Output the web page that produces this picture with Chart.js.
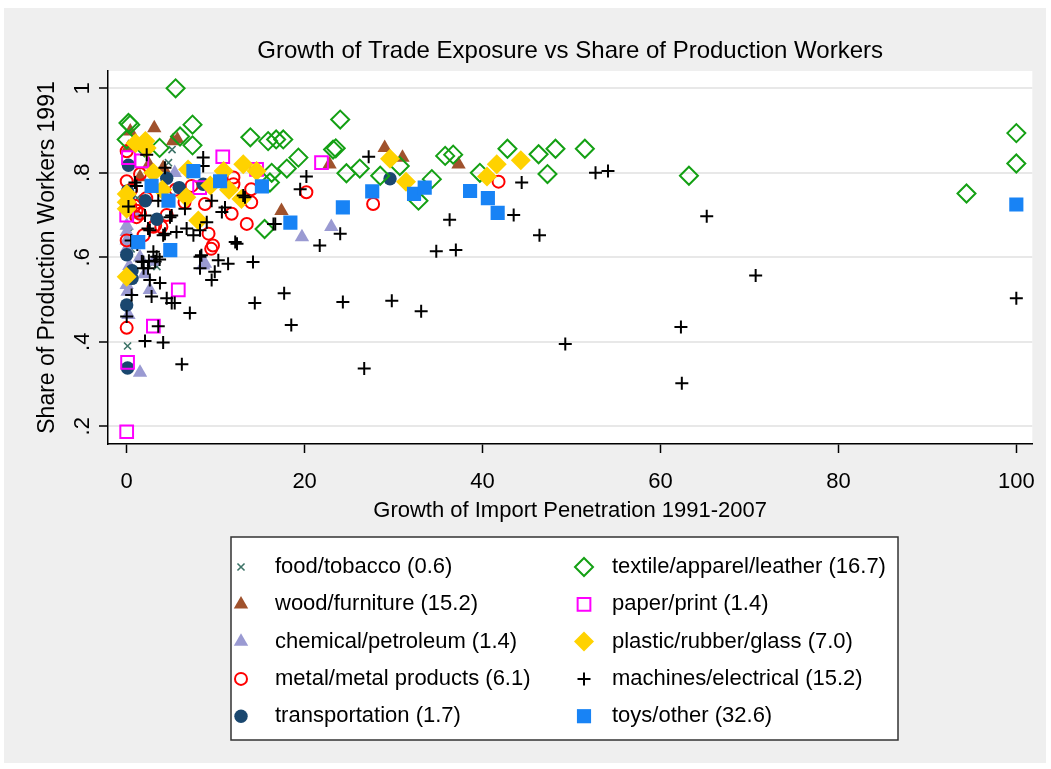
<!DOCTYPE html>
<html>
<head>
<meta charset="utf-8">
<title>Growth of Trade Exposure vs Share of Production Workers</title>
<script src="https://cdn.jsdelivr.net/npm/chart.js@4"></script>
<style>
  html, body { margin: 0; padding: 0; background: #fff; }
  #wrap { width: 1051px; height: 769px; }
</style>
</head>
<body>
<div id="wrap"><canvas id="tradeChart" width="1051" height="769"></canvas></div>
<script>
// text
const chartTitle = 'Growth of Trade Exposure vs Share of Production Workers';
const xTitle = 'Growth of Import Penetration 1991-2007';
const yTitle = 'Share of Production Workers 1991';
const xTicks = [0, 20, 40, 60, 80, 100];
const yTicks = [0.2, 0.4, 0.6, 0.8, 1];
const yTickLabels = ['.2', '.4', '.6', '.8', '1'];
const seriesLabels = [
  'food/tobacco (0.6)',
  'wood/furniture (15.2)',
  'chemical/petroleum (1.4)',
  'metal/metal products (6.1)',
  'transportation (1.7)',
  'textile/apparel/leather (16.7)',
  'paper/print (1.4)',
  'plastic/rubber/glass (7.0)',
  'machines/electrical (15.2)',
  'toys/other (32.6)',
];

// points: [growth of import penetration, share of production workers]
const food = [
  [2.6, 0.812], [5.1, 0.855], [4.7, 0.824], [0.1, 0.39], [3.4, 0.578],
  [0.3, 0.66], [1.2, 0.74], [0.5, 0.62], [2.9, 0.585], [0.0, 0.71],
];
const wood = [
  [0.4, 0.898], [3.1, 0.906], [5.7, 0.879], [4.1, 0.812], [2.5, 0.82],
  [17.4, 0.71], [22.8, 0.82], [29.0, 0.859], [31.0, 0.836], [37.3, 0.82],
  [0.2, 0.86], [1.5, 0.79], [5.2, 0.875],
];
const chemical = [
  [8.6, 0.581], [2.6, 0.523], [1.5, 0.327], [0.0, 0.535], [0.2, 0.464],
  [19.7, 0.648], [23.0, 0.672], [5.4, 0.80], [0.0, 0.675], [0.0, 0.66],
  [0.0, 0.64], [0.1, 0.519], [0.0, 0.72], [8.8, 0.585], [1.5, 0.60],
  [2.0, 0.56], [0.3, 0.58], [0.0, 0.62], [3.0, 0.59], [1.0, 0.70],
];
const metal = [
  [0.0, 0.851], [0.0, 0.78], [1.5, 0.797], [0.4, 0.722], [1.1, 0.71],
  [7.3, 0.769], [12.0, 0.789], [12.0, 0.773], [14.0, 0.761], [14.0, 0.73],
  [8.8, 0.726], [11.8, 0.703], [13.5, 0.679], [9.7, 0.628], [1.1, 0.695],
  [3.2, 0.675], [1.9, 0.652], [0.0, 0.433], [9.5, 0.62], [20.2, 0.754],
  [27.7, 0.726], [41.8, 0.779], [3.0, 0.672], [3.9, 0.672], [0.9, 0.722],
  [1.5, 0.703], [9.2, 0.656], [0.0, 0.64], [0.5, 0.76], [2.2, 0.74],
  [4.5, 0.70], [5.5, 0.76], [6.5, 0.73],
];
const transport = [
  [0.2, 0.818], [0.1, 0.757], [0.2, 0.745], [4.5, 0.787], [5.9, 0.765],
  [8.6, 0.773], [2.1, 0.734], [3.4, 0.69], [0.0, 0.606], [0.6, 0.568],
  [0.6, 0.55], [0.0, 0.487], [0.1, 0.338], [29.6, 0.786],
];
const textile = [
  [5.5, 1.0], [0.4, 0.914], [7.4, 0.914], [0.0, 0.879], [13.9, 0.884],
  [15.9, 0.875], [16.8, 0.879], [17.6, 0.879], [3.7, 0.859], [7.4, 0.865],
  [6.0, 0.886], [16.3, 0.80], [15.5, 0.667], [24.0, 0.926], [23.2, 0.855],
  [23.5, 0.858], [19.3, 0.836], [18.0, 0.81], [24.7, 0.799], [26.2, 0.81],
  [28.5, 0.793], [30.7, 0.816], [34.3, 0.785], [32.8, 0.734], [35.8, 0.84],
  [36.7, 0.843], [16.1, 0.777], [42.8, 0.857], [46.3, 0.844], [48.2, 0.857],
  [51.5, 0.857], [39.7, 0.80], [47.3, 0.797], [63.2, 0.793], [100, 0.894],
  [100, 0.822], [94.4, 0.751], [0.2, 0.918], [2.0, 0.86],
];
const paper = [
  [10.8, 0.838], [0.2, 0.836], [14.6, 0.808], [8.2, 0.765], [0.0, 0.70],
  [5.8, 0.523], [3.0, 0.437], [0.0, 0.187], [0.1, 0.351], [21.9, 0.824],
  [1.7, 0.828],
];
const plastic = [
  [2.1, 0.875], [6.9, 0.808], [13.1, 0.82], [10.9, 0.804], [14.6, 0.804],
  [8.05, 0.687], [6.7, 0.742], [0.0, 0.73], [9.4, 0.77], [0.0, 0.554],
  [29.6, 0.833], [31.4, 0.779], [41.6, 0.82], [44.3, 0.83], [40.5, 0.791],
  [2.25, 0.859], [0.0, 0.715], [12.9, 0.738], [0.0, 0.75], [4.0, 0.76],
  [3.0, 0.80], [11.5, 0.76], [1.0, 0.87],
];
const machines = [
  [2.25, 0.843], [8.6, 0.836], [8.6, 0.816], [4.3, 0.812], [1.1, 0.769],
  [3.55, 0.734], [9.55, 0.734], [11.05, 0.718], [10.7, 0.707], [13.1, 0.746],
  [6.55, 0.715], [5.06, 0.699], [2.06, 0.699], [9.0, 0.683], [6.74, 0.668],
  [8.24, 0.664], [5.6, 0.66], [4.3, 0.656], [2.6, 0.664], [16.5, 0.679],
  [12.2, 0.636], [3.0, 0.613], [8.24, 0.601], [10.3, 0.593], [11.4, 0.585],
  [14.2, 0.589], [8.24, 0.574], [9.9, 0.566], [9.55, 0.546], [2.6, 0.546],
  [3.74, 0.539], [0.56, 0.511], [2.8, 0.507], [4.5, 0.503], [5.4, 0.492],
  [5.06, 0.492], [7.1, 0.468], [14.4, 0.492], [0.0, 0.46], [3.55, 0.437],
  [2.06, 0.402], [4.1, 0.398], [6.2, 0.347], [1.7, 0.59], [2.5, 0.592],
  [3.2, 0.59], [3.7, 0.595], [1.9, 0.574], [2.4, 0.574], [20.2, 0.791],
  [19.5, 0.761], [27.2, 0.838], [16.7, 0.679], [24.0, 0.656], [21.7, 0.628],
  [36.3, 0.689], [34.8, 0.614], [37.0, 0.617], [17.7, 0.515], [18.5, 0.44],
  [24.3, 0.494], [29.8, 0.497], [33.1, 0.472], [26.7, 0.337], [44.4, 0.777],
  [52.7, 0.80], [54.1, 0.804], [43.5, 0.70], [46.4, 0.652], [65.2, 0.697],
  [70.7, 0.557], [62.3, 0.435], [49.3, 0.395], [62.4, 0.302], [100, 0.503],
  [0.93, 0.777], [4.87, 0.695], [2.4, 0.668], [7.5, 0.652], [3.37, 0.601],
  [1.87, 0.589], [4.1, 0.652], [12.4, 0.632], [8.4, 0.605], [13.3, 0.742],
  [0.2, 0.72], [0.5, 0.64], [1.2, 0.63],
];
const toys = [
  [7.5, 0.804], [2.8, 0.769], [10.5, 0.78], [4.7, 0.734], [15.2, 0.768],
  [1.3, 0.636], [4.9, 0.617], [27.6, 0.756], [24.3, 0.718], [32.3, 0.75],
  [33.5, 0.765], [18.4, 0.682], [38.6, 0.757], [40.6, 0.74], [41.7, 0.705],
  [100, 0.725],
];

// no narrow face installed, so sizes are picked to match the text widths
const FONT = '"Liberation Sans Narrow", "Arial Narrow", "Liberation Sans", Arial, sans-serif';
const gridColor = '#e8e8e8';

// marker look for each series, same order as seriesLabels
const markers = [
  { style: 'crossRot', radius: 5, fill: '#3d7367', line: '#3d7367', width: 1.6 },
  { style: 'triangle', radius: 8.3, fill: '#a0522d', line: '#a0522d', width: 0 },
  { style: 'triangle', radius: 8.3, fill: '#9a9ad2', line: '#9a9ad2', width: 0 },
  { style: 'circle', radius: 6, fill: 'rgba(0,0,0,0)', line: '#ff0000', width: 2 },
  { style: 'circle', radius: 6.7, fill: '#1a476f', line: '#1a476f', width: 0 },
  { style: 'rectRot', radius: 9, fill: 'rgba(0,0,0,0)', line: '#14a014', width: 2 },
  { style: 'rect', radius: 9, fill: 'rgba(0,0,0,0)', line: '#ff00ff', width: 2 },
  { style: 'rectRot', radius: 10, fill: '#ffd200', line: '#ffd200', width: 0 },
  { style: 'cross', radius: 6.5, fill: '#000', line: '#000', width: 2 },
  { style: 'rect', radius: 10, fill: '#1883f5', line: '#1883f5', width: 0 },
];
const seriesData = [food, wood, chemical, metal, transport, textile, paper, plastic, machines, toys];

const datasets = seriesData.map((pts, i) => ({
  label: seriesLabels[i],
  data: pts.map((p) => ({ x: p[0], y: p[1] })),
  pointStyle: markers[i].style,
  pointRadius: markers[i].radius,
  backgroundColor: markers[i].fill,
  borderColor: markers[i].line,
  borderWidth: markers[i].width,
  // later series drawn on top, like stata
  order: seriesData.length - i,
}));

// grey graph region + white plot region
const backdrop = {
  id: 'backdrop',
  beforeDraw(chart) {
    const { ctx, chartArea } = chart;
    ctx.save();
    ctx.fillStyle = '#fff';
    ctx.fillRect(0, 0, chart.width, chart.height);
    ctx.fillStyle = '#efefef';
    ctx.fillRect(4, 8, 1042, 755);
    ctx.fillStyle = '#fff';
    ctx.fillRect(chartArea.left, chartArea.top, chartArea.right - chartArea.left, chartArea.bottom - chartArea.top);
    ctx.restore();
  },
};

// two column legend in a box (column first)
const boxLegend = {
  id: 'boxLegend',
  afterDraw(chart) {
    const ctx = chart.ctx;
    ctx.save();
    ctx.fillStyle = '#fff';
    ctx.fillRect(231, 537, 667, 203);
    ctx.strokeStyle = '#333';
    ctx.lineWidth = 1.5;
    ctx.strokeRect(231, 537, 667, 203);
    chart.data.datasets.forEach((ds, i) => {
      const col = i < 5 ? 0 : 1;
      const y = 567 + (i % 5) * 37.3;
      const sx = col ? 584 : 241;
      const tx = col ? 612 : 275;
      ctx.fillStyle = ds.backgroundColor;
      ctx.strokeStyle = ds.borderColor;
      ctx.lineWidth = ds.borderWidth;
      Chart.helpers.drawPoint(ctx, {
        pointStyle: ds.pointStyle,
        radius: ds.pointRadius,
        rotation: 0,
        borderWidth: ds.borderWidth,
      }, sx, y);
      ctx.fillStyle = '#000';
      ctx.font = '22px ' + FONT;
      ctx.textBaseline = 'middle';
      ctx.textAlign = 'left';
      ctx.fillText(ds.label, tx, y);
    });
    ctx.restore();
  },
};

const config = {
  type: 'scatter',
  data: { datasets: datasets },
  options: {
    responsive: false,
    animation: false,
    devicePixelRatio: 1,
    events: [],
    layout: { padding: { left: 0, right: 18, top: 0, bottom: 225 } },
    plugins: {
      legend: { display: false },
      tooltip: { enabled: false },
      title: {
        display: true,
        text: chartTitle,
        fullSize: false,
        color: '#000',
        font: { family: FONT, size: 24, weight: 'normal' },
        padding: { top: 37, bottom: 5.2 },
      },
    },
    scales: {
      x: {
        type: 'linear',
        min: -2.1,
        max: 101.8,
        afterBuildTicks: (axis) => {
          axis.ticks = xTicks.map((v) => ({ value: v }));
        },
        afterFit: (axis) => {
          axis.height = 100;
        },
        ticks: {
          color: '#000',
          font: { family: FONT, size: 22 },
          padding: 16,
          callback: (v) => String(v),
        },
        grid: {
          drawOnChartArea: false,
          tickLength: 9,
          tickColor: '#000',
          tickWidth: 1.5,
        },
        border: { display: true, color: '#000', width: 1.5 },
        title: {
          display: true,
          text: xTitle,
          color: '#000',
          font: { family: FONT, size: 22 },
          padding: { top: 0, bottom: 20 },
        },
      },
      y: {
        type: 'linear',
        min: 0.158,
        max: 1.041,
        afterBuildTicks: (axis) => {
          axis.ticks = yTicks.map((v) => ({ value: v }));
        },
        afterFit: (axis) => {
          axis.width = 108;
        },
        ticks: {
          color: '#000',
          font: { family: FONT, size: 22 },
          minRotation: 90,
          maxRotation: 90,
          crossAlign: 'center',
          padding: 7,
          callback: (v, i) => yTickLabels[i],
        },
        grid: {
          color: gridColor,
          lineWidth: 2,
          tickLength: 9,
          tickColor: '#000',
          tickWidth: 1.5,
        },
        border: { display: true, color: '#000', width: 1.5 },
        title: {
          display: true,
          text: yTitle,
          color: '#000',
          font: { family: FONT, size: 23 },
          padding: { top: 34, bottom: 0 },
        },
      },
    },
  },
  plugins: [backdrop, boxLegend],
};

const tradeChart = new Chart(document.getElementById('tradeChart'), config);
</script>
</body>
</html>
